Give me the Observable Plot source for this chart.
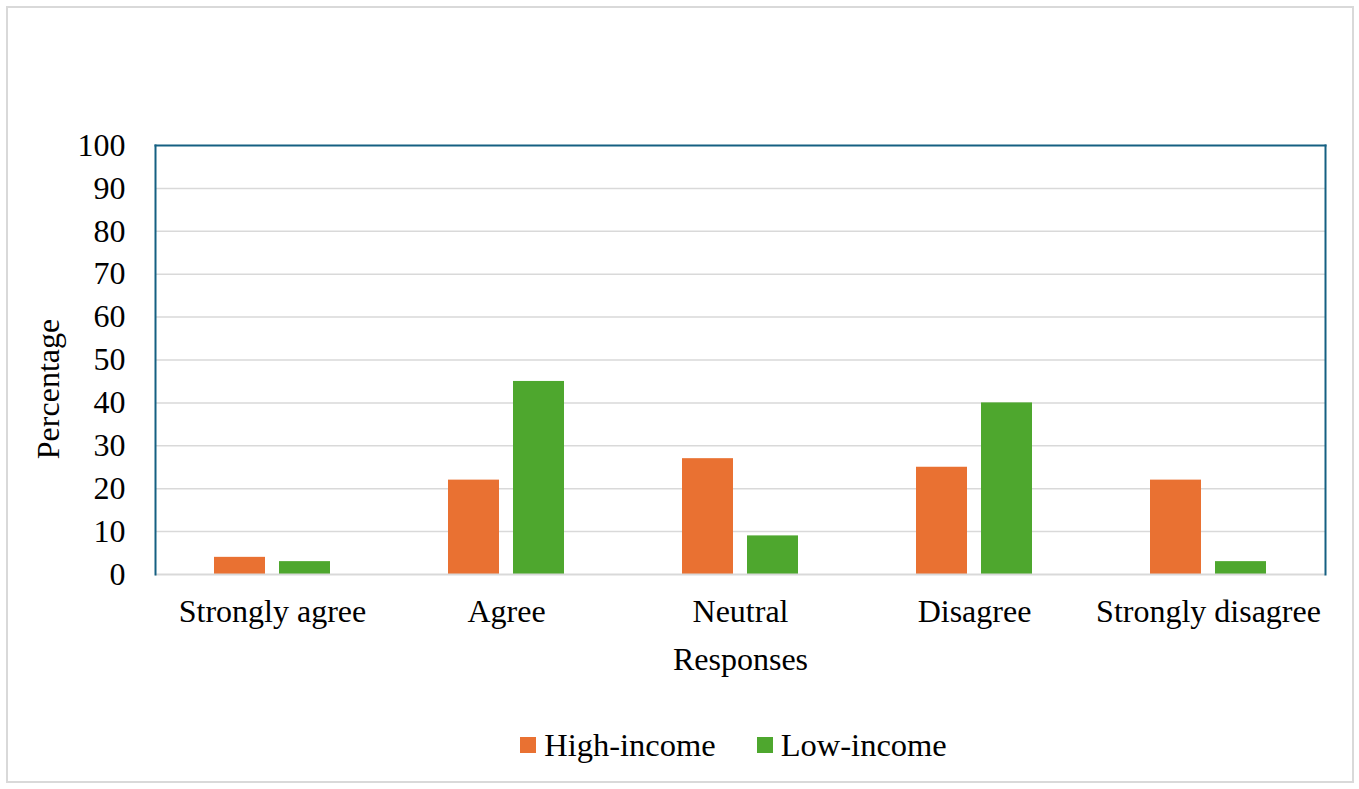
<!DOCTYPE html>
<html>
<head>
<meta charset="utf-8">
<script src="https://cdn.jsdelivr.net/npm/d3@7"></script>
<script src="https://cdn.jsdelivr.net/npm/@observablehq/plot@0.6"></script>
<style>
  html, body { margin: 0; padding: 0; background: #fff; }
  #chart {
    position: relative;
    width: 1359px;
    height: 789px;
    font-family: "Liberation Serif", "Times New Roman", serif;
    color: #000;
  }
  #chart .border {
    position: absolute;
    left: 6px; top: 6px;
    width: 1344px; height: 773px;
    border: 2px solid #d9d9d9;
    pointer-events: none;
  }
  #chart svg { display: block; position: relative; }
  .legend {
    position: relative;
    display: flex;
    justify-content: center;
    align-items: center;
    gap: 41px;
    height: 40px;
    margin-top: 25px;
    padding-left: 108px;
    font-size: 32.5px;
  }
  .legend .item { display: flex; align-items: center; gap: 8px; }
  .legend .sw { width: 16px; height: 16px; display: inline-block; }
</style>
</head>
<body>
<div id="chart"><div class="border"></div></div>
<script>
// Survey responses by income group (percent of respondents)
const responses = ["Strongly agree", "Agree", "Neutral", "Disagree", "Strongly disagree"];
const series = ["High-income", "Low-income"];
const highIncome = [4, 22, 27, 25, 22];
const lowIncome = [3, 45, 9, 40, 3];
const yTicks = [0, 10, 20, 30, 40, 50, 60, 70, 80, 90, 100];
const colors = ["#E97132", "#4EA72E"];

const rows = [
  ...responses.map((r, i) => ({response: r, group: series[0], value: highIncome[i]})),
  ...responses.map((r, i) => ({response: r, group: series[1], value: lowIncome[i]}))
];

const frameColor = "#156082";
const gridColor = "#d9d9d9";

const plot = Plot.plot({
  width: 1359,
  height: 700,
  marginTop: 145,
  marginBottom: 126,
  marginLeft: 153,
  marginRight: 33,
  style: {fontFamily: "'Liberation Serif', 'Times New Roman', serif", fontSize: "32px", color: "#000", background: "transparent"},
  fx: {
    domain: responses,
    padding: 0,
    label: "Responses",
    labelAnchor: "center",
    labelOffset: 95,
    tickSize: 0,
    tickPadding: 25
  },
  x: {domain: series, axis: null, paddingInner: 0.21, paddingOuter: 0.88},
  y: {
    domain: [0, 100],
    ticks: yTicks,
    tickSize: 0,
    tickPadding: 30,
    label: null
  },
  color: {domain: series, range: colors},
  marks: [
    Plot.gridY(yTicks.filter((t) => t > 0 && t < 100), {stroke: gridColor, strokeOpacity: 1, strokeWidth: 1.5}),
    Plot.barY(rows, {fx: "response", x: "group", y: "value", fill: "group"}),
    Plot.ruleY([0], {stroke: gridColor, strokeWidth: 2}),
    Plot.frame({facet: "super", anchor: "left", stroke: frameColor, strokeWidth: 2}),
    Plot.frame({facet: "super", anchor: "top", stroke: frameColor, strokeWidth: 2}),
    Plot.frame({facet: "super", anchor: "right", stroke: frameColor, strokeWidth: 2}),
    // vertical axis title, centred on the chart area
    Plot.text(["Percentage"], {facet: "super", frameAnchor: "left", textAnchor: "middle", rotate: -90, dx: -107, dy: 29, fontSize: 32, fill: "#000"})
  ]
});

const chart = document.getElementById("chart");
chart.appendChild(plot);

// Legend built from the plot's color scale
const colorScale = plot.scale("color");
const legend = d3.select(chart).append("div").attr("class", "legend");
const items = legend.selectAll(".item").data(colorScale.domain).join("div").attr("class", "item");
items.append("span").attr("class", "sw").style("background", (d) => colorScale.range[colorScale.domain.indexOf(d)]);
items.append("span").text((d) => d);
</script>
</body>
</html>
